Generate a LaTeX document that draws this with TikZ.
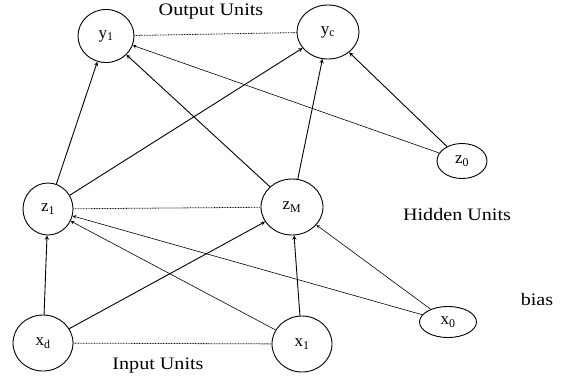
\documentclass[tikz,border=0pt]{standalone}
\usepackage{fontspec}
\setmainfont{Liberation Serif}
\newfontfamily\layerfont[FakeStretch=1.15]{Liberation Serif}
\usetikzlibrary{shapes.geometric, arrows}

\begin{document}
\begin{tikzpicture}[x=1pt, y=-1pt, font=\fontsize{17}{20}\selectfont,
  unit/.style={draw, ellipse, line width=0.9pt, inner sep=0pt},
  layername/.style={font=\layerfont\fontsize{17.5}{20}\selectfont, anchor=base, inner sep=0pt},
  wire/.style={-stealth, line width=0.9pt},
  thinwire/.style={-stealth, line width=0.6pt},
  sameline/.style={line width=0.8pt, dash pattern=on 0.8pt off 0.8pt}]
  \useasboundingbox (0,0) rectangle (569,378);

  % output layer
  \node[unit, minimum width=56pt, minimum height=53pt] (y1) at (106,36) {y\textsubscript{1}};
  \node[unit, minimum width=62pt, minimum height=54pt] (yc) at (328,32) {y\textsubscript{c}};
  \node[unit, minimum width=50pt, minimum height=35pt] (z0) at (462,161) {z\textsubscript{0}};
  % hidden layer
  \node[unit, minimum width=50pt, minimum height=52pt] (z1) at (48,209) {z\textsubscript{1}};
  \node[unit, minimum width=62pt, minimum height=56pt] (zM) at (292,207) {z\textsubscript{M}};
  % input layer
  \node[unit, minimum width=60pt, minimum height=56pt] (xd) at (43,343) {x\textsubscript{d}};
  \node[unit, minimum width=60pt, minimum height=56pt] (x1) at (302,344) {x\textsubscript{1}};
  \node[unit, minimum width=57pt, minimum height=31pt] (x0) at (448,322) {x\textsubscript{0}};

  \node[layername] (out) at (211,15) {Output Units};
  \node[layername] (hid) at (457,220) {Hidden Units};
  \node[layername] (bias) at (537,305) {bias};
  \node[layername] (inp) at (158,369) {Input Units};

  \draw[sameline] (y1) -- (yc);
  \draw[sameline] (z1) -- (zM);
  \draw[sameline] (xd) -- (x1);

  \path[wire]
    (xd) edge (z1)
    (xd) edge (zM)
    (x1) edge (zM)
    (z1) edge (y1)
    (z1) edge (yc)
    (zM) edge (y1)
    (zM) edge (yc)
    (z0) edge (yc)
    ;
  \path[thinwire]
    (x1) edge (z1)
    (x0) edge (z1)
    (x0) edge (zM)
    (z0) edge (y1)
    ;
\end{tikzpicture}
\end{document}
